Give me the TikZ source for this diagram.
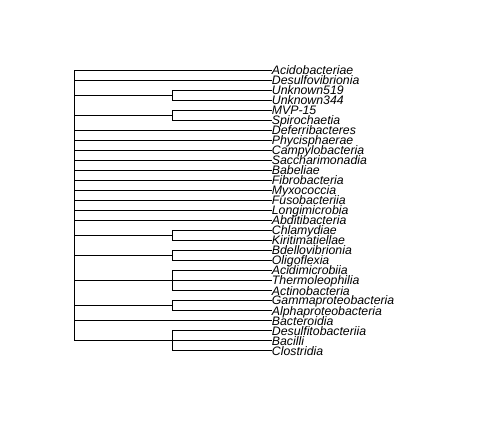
\documentclass[tikz,border=0pt]{standalone}
\usepackage{fontspec}
\newfontfamily\tipfamily{Liberation Sans}
\usepackage{tikz}
\usetikzlibrary{positioning,calc}

\begin{document}
\begin{tikzpicture}
                [x=1pt,y=-1pt,branch/.style={line width=0.9pt,line cap=rect},
                 tip/.style={anchor=base west,inner sep=0pt,font=\tipfamily\itshape\fontsize{12.3}{14}\selectfont}]

                \useasboundingbox (0,0) rectangle (500,435);

                \pgfmathsetmacro{\rootX}{74}
                \pgfmathsetmacro{\innerX}{172.7}
                \pgfmathsetmacro{\tipX}{271.7}

                % tips and their labels
                \foreach \name [count=\i] in {Acidobacteriae,Desulfovibrionia,Unknown519,Unknown344,MVP-15,Spirochaetia,Deferribacteres,Phycisphaerae,Campylobacteria,Saccharimonadia,Babeliae,Fibrobacteria,Myxococcia,Fusobacteriia,Longimicrobia,Abditibacteria,Chlamydiae,Kiritimatiellae,Bdellovibrionia,Oligoflexia,Acidimicrobiia,Thermoleophilia,Actinobacteria,Gammaproteobacteria,Alphaproteobacteria,Bacteroidia,Desulfitobacteriia,Bacilli,Clostridia}
                {
                    \coordinate (t\i) at (\tipX,60.7+10*\i);
                    \node[tip] (lab\i) at (\tipX,65+10*\i) {\name};
                }

                \coordinate (root) at (\rootX,70.7);

                % clades
                \foreach \a/\b/\m in {3/4/3.5,5/6/5.5,17/18/17.5,19/20/19.5,21/23/22,24/25/24.5,27/29/28}
                {
                    \coordinate (c\a) at (\innerX,60.7+10*\m);
                    \draw[branch] (root |- c\a) -- (c\a);
                    \draw[branch] (t\a -| c\a) -- (t\b -| c\a);
                    \foreach \k in {\a,...,\b}
                        \draw[branch] (t\k -| c\a) -- (t\k);
                }

                % single tips
                \foreach \k in {1,2,7,8,9,10,11,12,13,14,15,16,26}
                    \draw[branch] (root |- t\k) -- (t\k);

                \draw[branch] (root |- t1) -- (root |- c27);

\end{tikzpicture}
\end{document}
